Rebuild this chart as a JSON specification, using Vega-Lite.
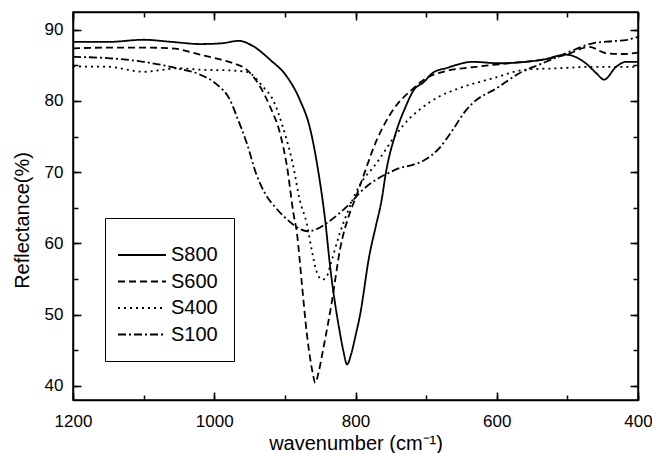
{
  "$schema": "https://vega.github.io/schema/vega-lite/v6.json",
  "width": 565,
  "height": 388,
  "autosize": "none",
  "padding": {"left": 73, "top": 12, "right": 14, "bottom": 53},
  "background": "white",
  "config": {
    "view": {"stroke": "black", "strokeWidth": 1.5},
    "font": "Liberation Sans",
    "axis": {"domainColor": "black", "domainWidth": 1.5, "ticks": false, "tickSize": 0, "gridColor": "black", "gridOpacity": 1, "gridWidth": 1.5, "labelColor": "black", "titleColor": "black", "labelFont": "Liberation Sans", "titleFont": "Liberation Sans", "titleFontWeight": "normal", "labelFontSize": 17, "labelFlush": false}
  },
  "data": {"values": [
    {"s":"S800","w":1200,"r":88.3},{"s":"S800","w":1150,"r":88.3},{"s":"S800","w":1100,"r":88.6},{"s":"S800","w":1060,"r":88.3},{"s":"S800","w":1020,"r":88.0},{"s":"S800","w":990,"r":88.1},{"s":"S800","w":965,"r":88.45},{"s":"S800","w":945,"r":87.7},{"s":"S800","w":921,"r":85.8},{"s":"S800","w":897,"r":83.4},{"s":"S800","w":879,"r":80.2},{"s":"S800","w":864,"r":76.0},{"s":"S800","w":853,"r":70.3},{"s":"S800","w":843,"r":63.3},{"s":"S800","w":836,"r":56.8},{"s":"S800","w":822,"r":47.4},{"s":"S800","w":817,"r":44.8},{"s":"S800","w":812,"r":43.0},{"s":"S800","w":806,"r":44.5},{"s":"S800","w":800,"r":47.0},{"s":"S800","w":794,"r":49.7},{"s":"S800","w":780,"r":58.5},{"s":"S800","w":771,"r":62.5},{"s":"S800","w":763,"r":66.1},{"s":"S800","w":757,"r":69.9},{"s":"S800","w":743,"r":75.5},{"s":"S800","w":729,"r":79.2},{"s":"S800","w":717,"r":81.6},{"s":"S800","w":704,"r":82.6},{"s":"S800","w":690,"r":84.0},{"s":"S800","w":672,"r":84.6},{"s":"S800","w":634,"r":85.5},{"s":"S800","w":597,"r":85.3},{"s":"S800","w":559,"r":85.5},{"s":"S800","w":535,"r":85.8},{"s":"S800","w":502,"r":86.5},{"s":"S800","w":474,"r":85.3},{"s":"S800","w":459,"r":83.9},{"s":"S800","w":448,"r":83.0},{"s":"S800","w":431,"r":84.8},{"s":"S800","w":417,"r":85.5},{"s":"S800","w":400,"r":85.5},
    {"s":"S600","w":1200,"r":87.4},{"s":"S600","w":1150,"r":87.5},{"s":"S600","w":1100,"r":87.5},{"s":"S600","w":1060,"r":87.4},{"s":"S600","w":1020,"r":86.5},{"s":"S600","w":990,"r":85.8},{"s":"S600","w":973,"r":85.3},{"s":"S600","w":954,"r":84.4},{"s":"S600","w":935,"r":82.0},{"s":"S600","w":921,"r":79.2},{"s":"S600","w":907,"r":75.5},{"s":"S600","w":897,"r":70.8},{"s":"S600","w":888,"r":64.3},{"s":"S600","w":883,"r":61.5},{"s":"S600","w":876,"r":54.4},{"s":"S600","w":869,"r":47.4},{"s":"S600","w":861,"r":42.0},{"s":"S600","w":857,"r":40.4},{"s":"S600","w":852,"r":42.0},{"s":"S600","w":846,"r":45.0},{"s":"S600","w":833,"r":52.1},{"s":"S600","w":822,"r":59.1},{"s":"S600","w":808,"r":64.3},{"s":"S600","w":801,"r":66.1},{"s":"S600","w":794,"r":68.0},{"s":"S600","w":770,"r":74.5},{"s":"S600","w":745,"r":79.0},{"s":"S600","w":720,"r":81.6},{"s":"S600","w":700,"r":83.2},{"s":"S600","w":676,"r":84.1},{"s":"S600","w":629,"r":84.8},{"s":"S600","w":583,"r":85.3},{"s":"S600","w":535,"r":85.8},{"s":"S600","w":502,"r":86.5},{"s":"S600","w":469,"r":87.6},{"s":"S600","w":445,"r":86.7},{"s":"S600","w":420,"r":86.6},{"s":"S600","w":400,"r":86.8},
    {"s":"S400","w":1200,"r":84.85},{"s":"S400","w":1150,"r":84.8},{"s":"S400","w":1100,"r":84.1},{"s":"S400","w":1050,"r":84.6},{"s":"S400","w":1020,"r":84.4},{"s":"S400","w":980,"r":84.3},{"s":"S400","w":954,"r":84.1},{"s":"S400","w":931,"r":82.0},{"s":"S400","w":917,"r":80.2},{"s":"S400","w":903,"r":76.4},{"s":"S400","w":888,"r":70.8},{"s":"S400","w":879,"r":66.1},{"s":"S400","w":869,"r":62.8},{"s":"S400","w":862,"r":59.1},{"s":"S400","w":855,"r":56.0},{"s":"S400","w":847,"r":54.9},{"s":"S400","w":840,"r":55.5},{"s":"S400","w":836,"r":56.8},{"s":"S400","w":822,"r":61.5},{"s":"S400","w":810,"r":64.7},{"s":"S400","w":795,"r":68.0},{"s":"S400","w":770,"r":71.3},{"s":"S400","w":741,"r":75.5},{"s":"S400","w":724,"r":77.5},{"s":"S400","w":709,"r":78.8},{"s":"S400","w":682,"r":80.6},{"s":"S400","w":653,"r":81.8},{"s":"S400","w":605,"r":83.2},{"s":"S400","w":559,"r":84.4},{"s":"S400","w":512,"r":84.6},{"s":"S400","w":464,"r":84.8},{"s":"S400","w":430,"r":84.8},{"s":"S400","w":400,"r":84.8},
    {"s":"S100","w":1200,"r":86.2},{"s":"S100","w":1148,"r":86.0},{"s":"S100","w":1100,"r":85.5},{"s":"S100","w":1053,"r":84.6},{"s":"S100","w":1020,"r":83.7},{"s":"S100","w":996,"r":82.3},{"s":"S100","w":978,"r":80.2},{"s":"S100","w":968,"r":77.8},{"s":"S100","w":954,"r":74.1},{"s":"S100","w":940,"r":69.6},{"s":"S100","w":928,"r":67.0},{"s":"S100","w":912,"r":64.9},{"s":"S100","w":895,"r":63.2},{"s":"S100","w":880,"r":62.1},{"s":"S100","w":868,"r":61.7},{"s":"S100","w":855,"r":62.0},{"s":"S100","w":840,"r":62.9},{"s":"S100","w":822,"r":64.3},{"s":"S100","w":803,"r":66.1},{"s":"S100","w":795,"r":67.0},{"s":"S100","w":770,"r":69.0},{"s":"S100","w":753,"r":69.9},{"s":"S100","w":737,"r":70.6},{"s":"S100","w":720,"r":71.0},{"s":"S100","w":704,"r":71.6},{"s":"S100","w":682,"r":73.3},{"s":"S100","w":662,"r":76.0},{"s":"S100","w":645,"r":78.5},{"s":"S100","w":634,"r":79.7},{"s":"S100","w":600,"r":81.8},{"s":"S100","w":568,"r":83.9},{"s":"S100","w":535,"r":85.3},{"s":"S100","w":502,"r":86.7},{"s":"S100","w":464,"r":88.1},{"s":"S100","w":436,"r":88.4},{"s":"S100","w":415,"r":88.6},{"s":"S100","w":400,"r":89.0}
  ]},
  "layer": [
    {
      "mark": {"type": "line", "color": "black", "strokeWidth": 1.8, "interpolate": "monotone", "clip": true},
      "encoding": {
        "x": {"field": "w", "type": "quantitative", "scale": {"domain": [400, 1200], "reverse": true, "nice": false, "zero": false},
          "axis": {"orient": "bottom", "values": [1200,1100,1000,900,800,700,600,500,400], "labelExpr": "datum.value % 200 === 0 ? datum.label : ''", "labelPadding": 13, "title": "wavenumber (cm⁻¹)", "titleFontSize": 20, "titleY": 49, "titleBaseline": "alphabetic", "format": "d",
            "grid": true, "gridDash": [5, 378, 5, 1000]}},
        "y": {"field": "r", "type": "quantitative", "scale": {"domain": [38, 92.5], "nice": false, "zero": false},
          "axis": {"orient": "left", "values": [40,45,50,55,60,65,70,75,80,85,90], "labelExpr": "datum.value % 10 === 0 ? datum.label : ''", "labelPadding": 10, "title": "Reflectance(%)", "titleFontSize": 20, "titleX": -51, "titleY": 208, "titleBaseline": "middle", "titleAngle": -90,
            "grid": true, "gridDash": [5, 555, 5, 1000]}},
        "strokeDash": {"field": "s", "type": "nominal", "scale": {"domain": ["S800","S600","S400","S100"], "range": [[1,0],[7,4],[2,4],[8,3,2,3]]},
          "legend": {"title": " ", "titleFontSize": 7, "titlePadding": 1, "orient": "none", "legendX": 32, "legendY": 206, "symbolType": "M-2,0H2", "symbolSize": 576, "symbolStrokeWidth": 2, "symbolStrokeColor": "black", "labelFontSize": 20, "labelFont": "Liberation Sans", "labelColor": "black", "strokeColor": "black", "padding": 16, "rowPadding": 3.5, "symbolOffset": 8, "labelOffset": 16, "symbolLimit": 10}}
      }
    },
    {
      "mark": {"type": "line", "strokeOpacity": 0},
      "encoding": {
        "x": {"field": "w", "type": "quantitative", "scale": {"domain": [400, 1200], "reverse": true, "nice": false, "zero": false},
          "axis": {"orient": "top", "values": [1200,1000,800,600,400], "labels": false, "title": null,
            "grid": true, "gridDash": [8, 372, 8, 1000]}},
        "y": {"field": "r", "type": "quantitative", "scale": {"domain": [38, 92.5], "nice": false, "zero": false},
          "axis": {"orient": "right", "values": [40,50,60,70,80,90], "labels": false, "title": null,
            "grid": true, "gridDash": [8, 549, 8, 1000]}},
        "detail": {"field": "s"}
      }
    }
  ],
  "resolve": {"axis": {"x": "independent", "y": "independent"}}
}
